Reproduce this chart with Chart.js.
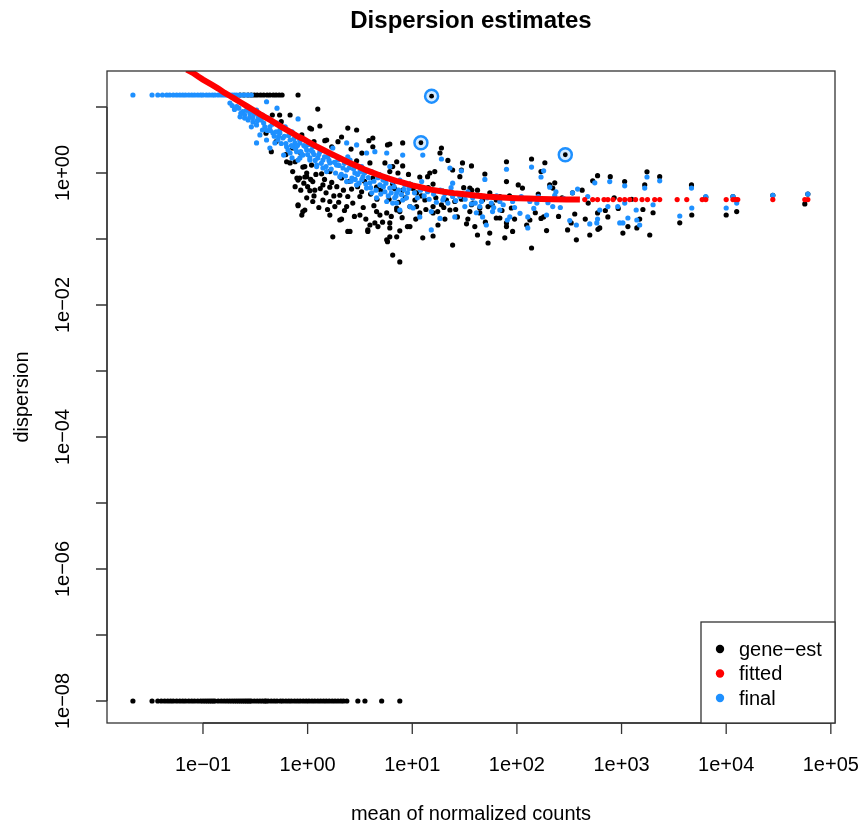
<!DOCTYPE html>
<html>
<head>
<meta charset="utf-8">
<title>Dispersion estimates</title>
<script src="https://cdn.jsdelivr.net/npm/chart.js@4/dist/chart.umd.min.js"></script>
<style>
  html, body { margin: 0; padding: 0; background: #fff; }
</style>
</head>
<body>
<canvas id="dispChart" width="863" height="825"></canvas>
<script>
// axis ranges and ticks
const xRange = [0.0121, 109600];
const yRange = [4.64e-9, 35.1];
const xTickValues = [0.1, 1, 10, 100, 1000, 10000, 100000];
const xTickLabels = ["1e\u221201", "1e+00", "1e+01", "1e+02", "1e+03", "1e+04", "1e+05"];
const yTickValues = [1e-8, 1e-7, 1e-6, 1e-5, 1e-4, 1e-3, 1e-2, 1e-1, 1, 10];
const yTickLabels = ["1e\u221208", "", "1e\u221206", "", "1e\u221204", "", "1e\u221202", "", "1e+00", ""];
const seriesNames = ["gene\u2212est", "fitted", "final"];

// gene-wise estimates (black)
const dispCap = 15.2;
const dispFloor = 1e-8;
const geneEstCapMeans = [0.226, 0.246, 0.27, 0.29, 0.31, 0.33, 0.355, 0.38, 0.41, 0.436, 0.47, 0.5, 0.535, 0.57, 0.81];
const geneEstFloorMeans = [0.0214, 0.0326, 0.037, 0.04, 0.043, 0.046, 0.049, 0.052, 0.056, 0.06, 0.064, 0.068,
  0.073, 0.078, 0.083, 0.089, 0.095, 0.1, 0.105, 0.11, 0.115, 0.12, 0.125, 0.13, 0.14, 0.15, 0.16, 0.17, 0.18,
  0.19, 0.2, 0.21, 0.22, 0.23, 0.24, 0.25, 0.26, 0.27, 0.28, 0.29, 0.31, 0.33, 0.35, 0.37, 0.39, 0.4, 0.42, 0.45,
  0.48, 0.51, 0.55, 0.58, 0.62, 0.66, 0.7, 0.75, 0.8, 0.85, 0.91, 0.97, 1.03, 1.1, 1.17, 1.25, 1.33, 1.42, 1.51,
  1.61, 1.72, 1.83, 1.95, 2.08, 2.2, 2.37, 3.02, 3.53, 5.1, 7.6];
const geneEstMain = [
  [1.25, 9.3], [0.68, 7.56], [0.46, 7.56], [0.54, 7.56], [0.56, 6.0], [1.05, 4.8], [1.31, 5.15], [1.09, 4.64],
  [0.88, 3.77], [1.52, 3.16], [1.95, 2.98], [0.45, 2.1], [0.63, 1.48], [0.68, 1.42], [0.9, 1.23], [0.98, 0.88],
  [0.79, 0.84], [2.42, 4.8], [2.94, 4.48], [4.2, 3.39], [5.8, 2.66], [0.84, 0.84], [0.98, 1.0], [0.81, 0.33],
  [0.9, 0.26], [1.12, 0.37], [1.63, 0.37], [1.63, 0.23], [2.03, 0.194], [2.42, 0.13], [1.74, 0.108], [3.76, 0.137],
  [4.39, 0.175], [5.8, 0.091], [6.5, 0.057], [2.11, 3.51], [1.46, 3.09], [3.85, 3.09], [4.2, 2.5], [6.1, 2.75],
  [0.76, 1.48], [0.94, 1.25], [1.09, 1.32], [1.36, 0.97], [1.63, 1.05], [2.11, 0.84], [2.94, 1.53], [3.94, 1.42],
  [5.48, 1.42], [7.1, 1.48], [6.1, 1.05], [7.3, 1.0], [4.91, 0.93], [4.2, 0.84], [0.81, 0.78], [0.94, 0.87],
  [1.12, 0.74], [1.4, 0.66], [1.63, 0.61], [1.17, 0.55], [2.63, 0.57], [3.28, 0.52], [4.56, 0.61], [3.16, 0.44],
  [2.42, 0.44], [2.03, 0.46], [1.4, 0.39], [1.82, 0.31], [2.36, 0.31], [3.16, 0.23], [0.98, 0.42], [0.81, 0.32],
  [0.94, 0.275], [0.88, 0.23], [1.05, 0.54], [4.56, 0.26], [4.91, 0.23], [5.7, 0.248], [7.1, 0.295], [2.11, 0.2],
  [2.54, 0.13], [3.76, 0.13], [3.94, 0.163], [4.7, 0.154], [6.1, 0.147], [7.1, 0.108], [5.7, 0.097], [7.6, 0.045],
  [9.0, 0.154], [8.1, 2.85], [19.0, 2.39], [18.4, 2.01], [21.9, 1.55], [30.2, 1.42], [36.8, 1.28], [49.4, 0.966],
  [79.5, 1.48], [11.8, 0.87], [14.0, 0.88], [16.4, 1.05], [28.5, 0.88], [35.5, 0.59], [42, 0.55], [55.1, 0.5],
  [68.7, 0.44], [79.5, 0.74], [103, 0.66], [10.6, 0.39], [11, 0.31], [13.2, 0.39], [15.8, 0.31], [19.0, 0.33],
  [15.8, 0.248], [22.9, 0.275], [25.5, 0.37], [36.8, 0.33], [44.2, 0.295], [53, 0.31], [63.5, 0.39], [88.5, 0.295],
  [7.6, 0.26], [9.5, 0.154], [12.6, 0.104], [15.8, 0.111], [17.6, 0.163], [20.5, 0.2], [27.0, 0.216], [34, 0.2],
  [39.6, 0.154], [42, 0.115], [53, 0.087], [63.5, 0.208], [79.5, 0.154], [24.3, 0.081], [8.1, 1.28], [6.5, 1.25],
  [14.7, 1.0], [24.3, 1.11], [29.5, 1.11], [6.5, 0.68], [8.1, 0.55], [9.5, 0.68], [11, 0.5], [15.8, 0.68],
  [19.6, 0.53], [21.2, 0.39], [29.5, 0.4], [37, 0.55], [47, 0.39], [35.5, 0.26], [44.2, 0.248], [55, 0.123],
  [68.7, 0.208], [79.5, 0.175], [76.6, 0.104], [91, 0.13], [124, 0.163], [180, 0.216], [192, 0.134], [138, 0.073],
  [330, 0.175], [370, 0.097], [305, 0.137], [497, 0.115], [357, 0.239], [590, 0.248], [619, 0.147], [740, 0.216],
  [1030, 0.123], [1150, 0.154], [1400, 0.147], [1860, 0.115], [2000, 0.25], [3600, 0.176], [4690, 0.231],
  [10000, 0.231], [12600, 0.26], [56400, 0.34], [7.6, 0.133], [6.1, 0.108], [6.1, 0.175], [11.8, 0.248],
  [7.1, 0.275], [9.5, 0.31], [138, 1.63], [185, 1.43], [590, 0.91], [530, 0.76], [780, 0.88], [1070, 0.74],
  [1750, 1.04], [2315, 0.88], [1665, 0.66], [4660, 0.66], [6380, 0.43], [27900, 0.46], [60300, 0.48],
  [11600, 0.44], [113, 0.59], [206, 0.66], [220, 0.59], [420, 0.55], [170, 1.05], [230, 0.71], [340, 0.5],
  [133, 0.194], [170, 0.205], [595, 0.14], [930, 0.29], [1490, 0.2],
  [0.72, 1.05], [0.76, 0.62], [0.86, 0.55], [0.92, 0.7], [1.0, 0.62], [1.07, 0.8], [1.15, 0.45], [1.2, 0.95],
  [1.28, 0.3], [1.32, 0.58], [1.45, 0.8], [1.5, 0.5], [1.55, 0.28], [1.7, 0.72], [1.78, 0.45], [1.9, 0.62],
  [1.98, 0.36], [2.2, 0.55], [2.25, 0.27], [2.5, 0.75], [2.7, 0.35], [2.8, 0.22], [3.0, 0.62], [3.4, 0.3],
  [3.5, 0.75], [3.6, 0.2], [4.0, 0.48], [4.3, 0.32], [4.6, 0.4], [5.0, 0.55], [5.2, 0.18], [5.5, 0.78], [6.0, 0.4],
  [6.3, 0.22], [6.8, 0.58], [7.4, 0.36], [8.0, 0.21], [8.6, 0.42], [9.2, 0.95], [10.2, 0.58], [10.8, 0.2],
  [12.2, 0.45], [13.5, 0.28], [14.2, 0.6], [16.8, 0.42], [17.5, 0.26], [20, 0.3], [23, 0.5], [26, 0.28], [31, 0.6],
  [33, 0.17], [38, 0.35], [45, 0.45], [50, 0.18], [58, 0.33], [72, 0.27], [85, 0.45], [95, 0.2], [150, 0.25],
  [160, 0.48], [250, 0.22], [270, 0.42], [450, 0.2], [480, 0.35], [700, 0.27], [850, 0.42], [1250, 0.4],
  [1600, 0.28], [0.62, 1.9], [0.72, 2.4], [0.86, 2.0], [1.15, 3.0], [1.38, 2.2], [1.7, 2.5], [2.6, 2.3],
  [3.3, 2.0], [0.5, 3.0], [0.4, 4.0]
];
const outliers = [[15.3, 14.6], [12.1, 2.87], [290, 1.89]];

// fitted trend (red)
const fittedCurve = [
  [0.07, 37], [0.08, 33], [0.09, 29], [0.1, 26], [0.12, 22], [0.14, 19], [0.16, 16.5], [0.18, 14.8], [0.2, 13.4],
  [0.23, 11.7], [0.26, 10.4], [0.3, 9.1], [0.35, 7.8], [0.4, 6.9], [0.45, 6.2], [0.5, 5.6], [0.6, 4.7], [0.7, 4.1],
  [0.8, 3.6], [0.9, 3.3], [1.0, 3.0], [1.2, 2.55], [1.4, 2.25], [1.7, 1.93], [2.0, 1.7], [2.5, 1.43], [3.0, 1.26],
  [3.5, 1.13], [4.0, 1.04], [5.0, 0.91], [6.0, 0.82], [7.0, 0.76], [8.0, 0.72], [10, 0.65], [12, 0.61], [15, 0.56],
  [20, 0.52], [25, 0.495], [30, 0.48], [40, 0.455], [50, 0.44], [65, 0.43], [80, 0.42], [100, 0.415], [130, 0.41],
  [170, 0.405], [220, 0.4], [300, 0.398], [400, 0.396]
];
const fittedDots = [
  [445, 0.396], [530, 0.396], [590, 0.396], [680, 0.396], [740, 0.396], [830, 0.396], [961, 0.396], [1072, 0.396],
  [1197, 0.396], [1360, 0.396], [1570, 0.396], [1770, 0.396], [2074, 0.396], [2315, 0.396], [3400, 0.396],
  [4200, 0.396], [5900, 0.396], [6380, 0.396], [10000, 0.396], [11600, 0.396], [12300, 0.396], [12900, 0.396],
  [27900, 0.396], [56400, 0.396], [60300, 0.396]
];

// final estimates (blue)
const finalCapMeans = [0.0214, 0.0326, 0.037, 0.041, 0.045, 0.048, 0.052, 0.056, 0.06, 0.064, 0.068, 0.073, 0.078,
  0.083, 0.089, 0.095, 0.1, 0.108, 0.115, 0.123, 0.13, 0.14, 0.15, 0.16, 0.17, 0.18, 0.19, 0.2, 0.21, 0.225, 0.24,
  0.255, 0.27, 0.29];
const finalMain = [
  [0.181, 11.5], [0.21, 10.1], [0.24, 8.5], [0.28, 8.1], [0.325, 9.0], [0.37, 7.56], [0.405, 12.0], [0.51, 9.6],
  [0.226, 7.1], [0.27, 6.35], [0.325, 5.34], [0.29, 5.0], [0.37, 4.48], [0.436, 5.0], [0.466, 4.04], [0.543, 4.48],
  [0.35, 3.77], [0.405, 3.16], [0.487, 2.85], [0.58, 3.39], [0.63, 2.5], [0.756, 2.85], [0.785, 2.1], [0.9, 1.87],
  [1.05, 1.57], [0.81, 1.57], [1.22, 1.32], [1.4, 1.19], [0.81, 6.6], [0.65, 2.23], [0.436, 2.39], [0.325, 2.85],
  [0.25, 6.8], [0.3, 5.9], [0.36, 6.35], [0.42, 6.8], [0.51, 5.7], [0.61, 5.0], [0.71, 4.2], [0.68, 3.16],
  [0.53, 3.6], [0.84, 3.16], [0.96, 2.48], [1.12, 2.08], [0.59, 1.87], [0.71, 1.69], [0.543, 4.04], [0.725, 2.5],
  [0.844, 2.85], [0.98, 2.23], [1.12, 2.5], [1.31, 2.1], [1.05, 1.69], [1.4, 1.57], [1.63, 1.42], [1.89, 1.32],
  [1.74, 1.87], [2.36, 2.85], [2.94, 2.66], [3.66, 2.01], [4.39, 2.1], [5.7, 2.01], [8.1, 1.87], [2.36, 1.11],
  [2.83, 1.0], [3.38, 0.88], [3.94, 0.71], [4.91, 0.66], [6.1, 0.59], [7.1, 0.5], [8.1, 0.39], [9.5, 0.31],
  [7.1, 0.35], [5.7, 0.37], [4.56, 0.42], [3.66, 0.59], [2.94, 0.66], [2.36, 0.74], [2.03, 0.88], [1.52, 1.05],
  [1.22, 1.25], [0.844, 1.69], [0.68, 2.01], [2.54, 1.57], [3.28, 1.25], [4.08, 1.05], [4.91, 0.93], [6.5, 0.74],
  [8.5, 0.66], [6.1, 1.25], [1.25, 1.69], [1.56, 1.75], [1.95, 1.57], [2.18, 1.19], [2.65, 0.84], [3.16, 1.04],
  [4.1, 0.5], [5.25, 0.78], [7.6, 0.78], [9.0, 0.5], [5.48, 0.52], [6.8, 0.42], [2.42, 1.75], [1.74, 2.39],
  [12.6, 1.87], [19, 1.63], [22.9, 1.19], [29.5, 1.08], [49.4, 0.8], [79.5, 1.14], [9.9, 0.66], [12.3, 0.74],
  [20.5, 0.49], [24.3, 0.44], [30.5, 0.48], [37.8, 0.42], [45.8, 0.37], [57, 0.35], [74, 0.33], [91, 0.37],
  [7.6, 0.275], [10.2, 0.295], [11.8, 0.216], [15.2, 0.26], [19.6, 0.39], [21.9, 0.35], [25.5, 0.216], [31.8, 0.31],
  [41, 0.25], [47, 0.216], [58.5, 0.26], [68.7, 0.275], [85.5, 0.216], [107, 0.245], [127, 0.216], [15.2, 0.137],
  [18.4, 0.205], [51, 0.163], [81, 0.194], [24.3, 0.7], [138, 1.23], [180, 1.08], [555, 0.71], [771, 0.74],
  [1072, 0.64], [1750, 0.87], [2315, 0.76], [1665, 0.59], [4660, 0.59], [6380, 0.44], [11600, 0.44], [27900, 0.46],
  [60300, 0.48], [12600, 0.35], [10000, 0.295], [4690, 0.295], [3600, 0.223], [2000, 0.33], [1400, 0.194],
  [1150, 0.208], [1030, 0.175], [740, 0.31], [619, 0.275], [497, 0.169], [370, 0.163], [320, 0.19], [475, 0.44],
  [220, 0.31], [198, 0.355], [36.8, 0.34], [6.5, 0.35], [14, 0.52], [22.9, 0.5], [28.5, 0.44], [44.2, 0.31],
  [68.7, 0.37], [133, 0.37], [155, 0.35], [236, 0.52], [380, 0.57], [920, 0.31], [1072, 0.35], [170, 0.87],
  [206, 0.61], [230, 0.46], [340, 0.5], [127, 0.147], [192, 0.231], [580, 0.175], [590, 0.2], [961, 0.175],
  [1490, 0.163], [1380, 0.275],
  [0.19, 10.5], [0.2, 9.2], [0.22, 9.6], [0.23, 8.0], [0.25, 7.6], [0.26, 8.9], [0.28, 7.0], [0.3, 6.9],
  [0.31, 7.8], [0.33, 6.2], [0.34, 7.0], [0.38, 5.7], [0.39, 5.0], [0.41, 4.4], [0.44, 4.4], [0.46, 5.5],
  [0.48, 3.6], [0.5, 4.2], [0.52, 3.2], [0.56, 2.8], [0.6, 3.6], [0.62, 2.8], [0.66, 3.7], [0.7, 2.6], [0.74, 3.3],
  [0.77, 2.3], [0.8, 2.6], [0.86, 2.1], [0.88, 1.9], [0.92, 2.6], [1.0, 1.9], [1.02, 2.7], [1.08, 2.2], [1.15, 1.9],
  [1.18, 1.55], [1.28, 1.9], [1.35, 1.4], [1.45, 1.75], [1.5, 1.25], [1.6, 1.55], [1.68, 1.15], [1.8, 1.45],
  [1.85, 1.0], [2.0, 1.3], [2.1, 0.95], [2.25, 1.4], [2.3, 0.9], [2.5, 1.2], [2.6, 0.75], [2.75, 1.15], [2.85, 0.8],
  [3.0, 0.95], [3.1, 0.7], [3.3, 0.8], [3.5, 1.0], [3.6, 0.68], [3.8, 0.85], [4.0, 0.6], [4.3, 0.75], [4.5, 0.55],
  [4.7, 0.85], [5.0, 0.48], [5.3, 0.62], [5.6, 0.7], [5.9, 0.45], [6.3, 0.5], [6.7, 0.62], [7.0, 0.45], [7.4, 0.55],
  [7.9, 0.47], [8.3, 0.56], [8.8, 0.42], [9.3, 0.58], [10.5, 0.5], [11.2, 0.42], [12, 0.55], [13, 0.45],
  [14.5, 0.4], [16, 0.48], [17, 0.36], [18.5, 0.55], [20, 0.42], [23.5, 0.6], [26, 0.38], [32, 0.4], [34, 0.52],
  [40, 0.35], [52, 0.42], [60, 0.3], [64, 0.45], [95, 0.3], [110, 0.44], [145, 0.29], [160, 0.44], [260, 0.3],
  [280, 0.41]
];

const colBlack = "#000000";
const colRed = "#ff0000";
const colBlue = "#1e90ff";
const fontFamily = '"Liberation Sans", Arial, Helvetica, sans-serif';

const toPoints = pairs => pairs.map(p => ({ x: p[0], y: p[1] }));
const atLevel = (means, level) => means.map(m => ({ x: m, y: level }));

// R-style frame, axes, titles and legend
const rFrame = {
  id: "rFrame",
  afterDraw(chart) {
    const { ctx, chartArea: a, scales: { x, y } } = chart;
    const tick = 11;
    ctx.save();
    ctx.strokeStyle = "#333";
    ctx.lineWidth = 1.3;
    ctx.strokeRect(a.left, a.top, a.right - a.left, a.bottom - a.top);

    ctx.fillStyle = "#000";
    ctx.font = "20px " + fontFamily;
    ctx.textAlign = "center";
    ctx.textBaseline = "middle";

    // x axis
    const x0 = x.getPixelForValue(xTickValues[0]);
    const x1 = x.getPixelForValue(xTickValues[xTickValues.length - 1]);
    ctx.beginPath();
    ctx.moveTo(x0, a.bottom); ctx.lineTo(x1, a.bottom);
    xTickValues.forEach(v => {
      const px = x.getPixelForValue(v);
      ctx.moveTo(px, a.bottom); ctx.lineTo(px, a.bottom + tick);
    });
    ctx.stroke();
    xTickValues.forEach((v, i) => {
      ctx.fillText(xTickLabels[i], x.getPixelForValue(v), a.bottom + 42);
    });

    // y axis
    const y0 = y.getPixelForValue(yTickValues[0]);
    const y1 = y.getPixelForValue(yTickValues[yTickValues.length - 1]);
    ctx.beginPath();
    ctx.moveTo(a.left, y0); ctx.lineTo(a.left, y1);
    yTickValues.forEach(v => {
      const py = y.getPixelForValue(v);
      ctx.moveTo(a.left, py); ctx.lineTo(a.left - tick, py);
    });
    ctx.stroke();
    yTickValues.forEach((v, i) => {
      if (!yTickLabels[i]) return;
      ctx.save();
      ctx.translate(a.left - 44, y.getPixelForValue(v));
      ctx.rotate(-Math.PI / 2);
      ctx.fillText(yTickLabels[i], 0, 0);
      ctx.restore();
    });

    // titles
    const cx = (a.left + a.right) / 2;
    ctx.fillText("mean of normalized counts", cx, a.bottom + 91);
    ctx.save();
    ctx.translate(22, (a.top + a.bottom) / 2);
    ctx.rotate(-Math.PI / 2);
    ctx.fillText("dispersion", 0, 0);
    ctx.restore();
    ctx.font = "bold 24px " + fontFamily;
    ctx.fillText("Dispersion estimates", cx, 21);

    // legend
    const lw = 134, lh = 101;
    const lx = a.right - lw, ly = a.bottom - lh;
    ctx.fillStyle = "#fff";
    ctx.fillRect(lx, ly, lw, lh);
    ctx.strokeStyle = "#333";
    ctx.lineWidth = 1.3;
    ctx.strokeRect(lx, ly, lw, lh);
    ctx.font = "20px " + fontFamily;
    ctx.textAlign = "left";
    [colBlack, colRed, colBlue].forEach((c, i) => {
      const ry = ly + 27 + i * 24.5;
      ctx.fillStyle = c;
      ctx.beginPath();
      ctx.arc(lx + 19, ry, 4.2, 0, Math.PI * 2);
      ctx.fill();
      ctx.fillStyle = "#000";
      ctx.fillText(seriesNames[i], lx + 38, ry + 1);
    });
    ctx.restore();
  }
};

const dot = (color, order, radius) => ({
  type: "scatter",
  backgroundColor: color,
  borderColor: color,
  pointRadius: radius,
  pointBorderWidth: 0,
  pointHoverRadius: radius,
  order: order
});

const r = 2.6;

new Chart(document.getElementById("dispChart").getContext("2d"), {
  type: "scatter",
  data: {
    datasets: [
      Object.assign(dot(colBlack, 5, r), { label: "gene-est", data: atLevel(geneEstCapMeans, dispCap) }),
      Object.assign(dot(colBlack, 5, r), { label: "gene-est floor", data: atLevel(geneEstFloorMeans, dispFloor) }),
      Object.assign(dot(colBlack, 5, r), { label: "gene-est main", data: toPoints(geneEstMain) }),
      Object.assign(dot(colBlue, 4, r), { label: "final", data: atLevel(finalCapMeans, dispCap) }),
      Object.assign(dot(colBlue, 4, r), { label: "final main", data: toPoints(finalMain) }),
      {
        label: "fitted",
        data: toPoints(fittedCurve),
        showLine: true,
        borderColor: colRed,
        borderWidth: 6,
        pointRadius: 0,
        order: 2
      },
      Object.assign(dot(colRed, 2, 2.6), { label: "fitted dots", data: toPoints(fittedDots) }),
      {
        label: "outliers",
        data: toPoints(outliers),
        pointRadius: 6.5,
        pointBorderWidth: 2.5,
        borderColor: colBlue,
        backgroundColor: "rgba(30,144,255,0.18)",
        order: 1
      },
      Object.assign(dot(colBlack, 0, 2.4), { label: "outlier centres", data: toPoints(outliers) })
    ]
  },
  options: {
    responsive: false,
    animation: false,
    events: [],
    layout: { padding: { left: 107, right: 28, top: 71, bottom: 102 } },
    scales: {
      x: { type: "logarithmic", min: xRange[0], max: xRange[1], display: false },
      y: { type: "logarithmic", min: yRange[0], max: yRange[1], display: false }
    },
    plugins: {
      legend: { display: false },
      tooltip: { enabled: false }
    }
  },
  plugins: [rFrame]
});
</script>
</body>
</html>
